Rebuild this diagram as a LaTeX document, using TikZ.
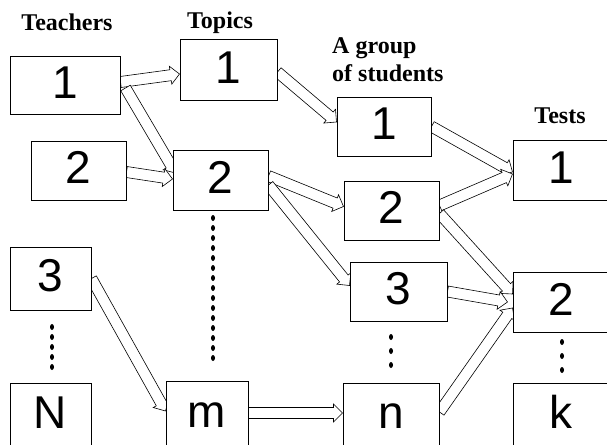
\documentclass[tikz,border=0pt]{standalone}
\usepackage{fontspec}
\setmainfont{Liberation Serif}
\setsansfont{Liberation Sans}
\usetikzlibrary{calc, backgrounds}

\begin{document}
\begin{tikzpicture}[x={(1pt,0)}, y={(0,-1pt)},
    box/.style={draw, line width=1pt, fill=white, inner sep=0pt,
        minimum width=95pt, minimum height=60pt,
        text height=34pt, text depth=8pt,
        font=\sffamily\fontsize{46}{46}\selectfont},
    head/.style={font=\bfseries\fontsize{24}{28}\selectfont, inner sep=0pt},
    flow/.style={draw, line width=0.6pt, fill=white, line join=miter,
        to path={let \p1=(\tikztostart), \p2=(\tikztotarget),
            \n1={atan2(\y2-\y1,\x2-\x1)} in
            ($(\p1)+(\n1+90:5.5pt)$) --
            ($(\p2)+(\n1+180:9pt)+(\n1+90:5.5pt)$) --
            ($(\p2)+(\n1+180:9pt)+(\n1+90:9pt)$) --
            (\p2) --
            ($(\p2)+(\n1+180:9pt)+(\n1-90:9pt)$) --
            ($(\p2)+(\n1+180:9pt)+(\n1-90:5.5pt)$) --
            ($(\p1)+(\n1-90:5.5pt)$) -- cycle}}]
    \clip (0,0) rectangle (607,444);

    \node[head, anchor=base] (teachers) at (67,31) {Teachers};
    \node[head, anchor=base] (topics) at (220,29) {Topics};
    \node[head, anchor=north west, align=left] (groups) at (332,37) {A group\\of students};
    \node[head, anchor=base] (tests) at (560,123) {Tests};

    \node[box, minimum width=110pt, minimum height=57pt] (t1) at (65,85.5) {1};
    \node[box, minimum height=59pt] (t2) at (78.5,170.5) {2};
    \node[box, minimum width=81pt, minimum height=63pt] (t3) at (50.5,278.5) {3};
    \node[box, minimum width=81pt, minimum height=64pt] (tN) at (50.5,415) {N};

    \node[box, minimum width=97pt] (p1) at (228.5,70) {1};
    \node[box] (p2) at (220.5,180) {2};
    \node[box, minimum width=82pt, minimum height=66pt] (pm) at (207,414) {m};

    \node[box, minimum width=94pt, minimum height=59pt] (g1) at (384,126.5) {1};
    \node[box, minimum height=59pt] (g2) at (391.5,210.5) {2};
    \node[box, minimum width=97pt, minimum height=59pt] (g3) at (398.5,291.5) {3};
    \node[box, minimum width=96pt, minimum height=64pt] (gn) at (391,415) {n};

    \node[box, minimum width=96pt] (e1) at (561,170) {1};
    \node[box, minimum width=96pt] (e2) at (561,302) {2};
    \node[box, minimum width=96pt, minimum height=64pt] (ek) at (561,415) {k};

    \begin{scope}[on background layer]
        \draw[flow] ([yshift=3.5pt]t1.east) to ([yshift=-4pt]p1.west);
        \draw[flow] ([xshift=5pt,yshift=-2.5pt]t1.east) to ([xshift=3pt,yshift=7pt]p2.west);
        \draw[flow] ([yshift=-1.5pt]t2.east) to ([yshift=1pt]p2.west);
        \draw[flow] ([yshift=-2pt]p1.east) to ([yshift=4.5pt]g1.west);
        \draw[flow] ([yshift=4pt]p2.east) to ([yshift=4pt]g2.west);
        \draw[flow] ([yshift=-5pt]p2.east) to ([yshift=6pt]g3.west);
        \draw[flow] (g1.east) to ([yshift=-2pt]e1.west);
        \draw[flow] ([yshift=5pt]g2.east) to ([yshift=-4pt]e1.west);
        \draw[flow] ([yshift=-3pt]g2.east) to ([yshift=8pt]e2.west);
        \draw[flow] (g3.east) to ([xshift=-5pt]e2.west);
        \draw[flow] ([yshift=3pt]gn.east) to ([yshift=-6pt]e2.west);
        \draw[flow] (t3.east) to ([yshift=3pt]pm.west);
        \draw[flow] ([yshift=1pt]pm.east) to ([yshift=2pt]gn.west);
    \end{scope}

    \foreach \y in {327,337,...,367}
        \fill (52,\y) ellipse [x radius=2pt, y radius=3pt];
    \foreach \y in {218,228,...,358}
        \fill (213,\y) ellipse [x radius=2pt, y radius=3pt];
    \foreach \y in {337,351,365}
        \fill (391,\y) ellipse [x radius=2pt, y radius=3pt];
    \foreach \y in {342,356,370}
        \fill (562,\y) ellipse [x radius=2pt, y radius=3pt];
\end{tikzpicture}
\end{document}
